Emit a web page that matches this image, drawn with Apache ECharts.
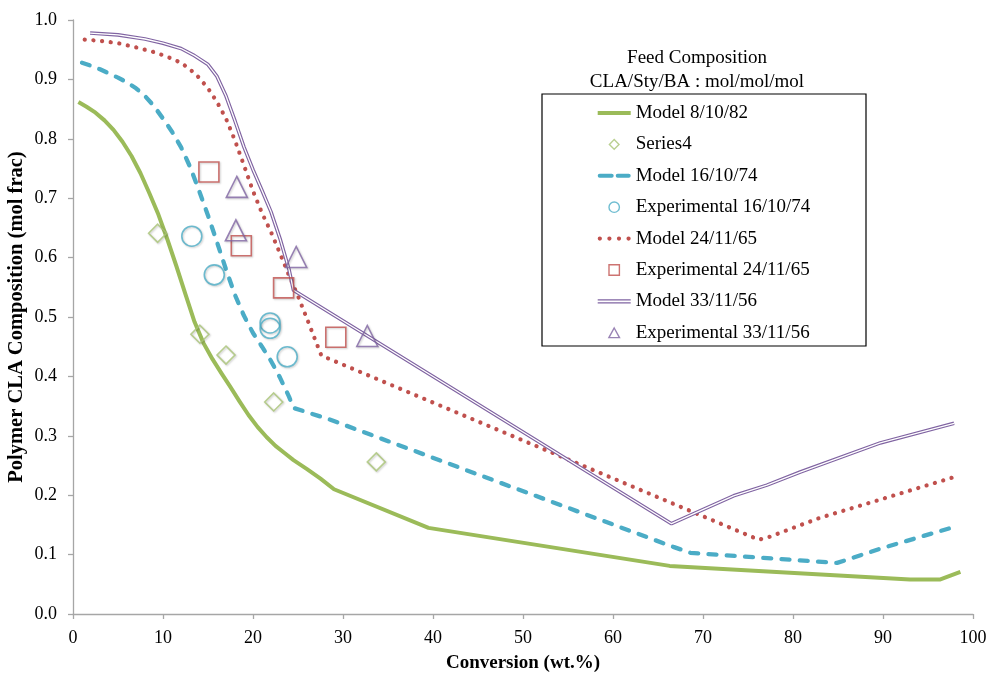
<!DOCTYPE html>
<html>
<head>
<meta charset="utf-8">
<script src="https://cdn.jsdelivr.net/npm/echarts@6/dist/echarts.min.js"></script>
<style>html,body{margin:0;padding:0;background:#fff}#c{width:990px;height:679px}</style>
</head>
<body>
<div id="c"></div>
<script>
// ---- data ----
const xTicks = [0, 10, 20, 30, 40, 50, 60, 70, 80, 90, 100];
const yTicks = [0.0, 0.1, 0.2, 0.3, 0.4, 0.5, 0.6, 0.7, 0.8, 0.9, 1.0];

const model_8_10_82 = [[0.6,0.862],[1.5,0.854],[2.5,0.844],[3.5,0.831],[4.5,0.815],[5.5,0.795],[6.5,0.771],[7.5,0.742],[8.5,0.708],[9.5,0.672],[10.5,0.630],[11.5,0.585],[12.5,0.538],[13.5,0.492],[14.5,0.456],[15.5,0.429],[16.5,0.405],[17.5,0.382],[18.5,0.358],[19.5,0.335],[20.5,0.315],[21.5,0.298],[22.5,0.283],[23.5,0.271],[24.5,0.259],[26,0.244],[27.5,0.228],[29,0.210],[39.5,0.145],[66.3,0.081],[93,0.058],[96.3,0.058],[98.6,0.071]];
const series4 = [[9.4,0.641],[14.1,0.471],[17.0,0.436],[22.3,0.357],[33.7,0.256]];

const model_16_10_74 = [[1.0,0.928],[2,0.923],[3,0.917],[4,0.910],[5,0.903],[6,0.895],[7,0.885],[8,0.872],[9,0.855],[10,0.834],[11,0.812],[12,0.786],[13,0.753],[14,0.713],[15,0.671],[16,0.626],[17,0.580],[18,0.537],[19,0.502],[20,0.473],[21,0.450],[22,0.426],[23,0.398],[24,0.366],[24.5,0.347],[28.6,0.327],[66.7,0.113],[68.6,0.103],[84.9,0.086],[89.7,0.110],[98,0.147]];
const exp_16_10_74 = [[13.2,0.636],[15.7,0.571],[21.9,0.490],[21.9,0.481],[23.8,0.433]];

const model_24_11_65 = [[1.3,0.967],[3,0.965],[5,0.961],[7,0.954],[9,0.946],[10.5,0.938],[12,0.928],[13,0.917],[14,0.903],[15,0.885],[16,0.862],[17,0.834],[18,0.797],[19,0.755],[20,0.712],[21,0.675],[22,0.643],[23,0.607],[24,0.570],[25,0.535],[26,0.497],[27,0.458],[27.6,0.435],[76.2,0.125],[77.4,0.130],[83,0.162],[88.9,0.189],[98,0.231]];
const exp_24_11_65 = [[15.1,0.744],[18.7,0.62],[23.4,0.549],[29.2,0.466]];

const model_33_11_56 = [[1.9,0.978],[5,0.975],[8,0.968],[10,0.961],[12,0.952],[13.5,0.940],[15,0.925],[16,0.905],[17,0.872],[18,0.830],[19,0.786],[20,0.748],[21,0.713],[22,0.677],[23,0.632],[24,0.580],[24.5,0.545],[66.5,0.152],[73.4,0.199],[77.1,0.217],[80.8,0.239],[89.7,0.288],[97.9,0.321]];
const exp_33_11_56 = [[18.2,0.719],[18.1,0.646],[24.8,0.601],[32.7,0.468]];

const legendNames = ['Model 8/10/82','Series4','Model 16/10/74','Experimental 16/10/74','Model 24/11/65','Experimental 24/11/65','Model 33/11/56','Experimental 33/11/56'];
const legendTitle = ['Feed Composition', 'CLA/Sty/BA : mol/mol/mol'];
const xName = 'Conversion (wt.%)';
const yName = 'Polymer CLA Composition (mol frac)';

// ---- styling ----
const GREEN = '#9BBB59', BLUE = '#4BACC6', RED = '#C0504D', PURPLE = '#8064A2';
const FONT = '"Liberation Serif", "Times New Roman", serif';

const chart = echarts.init(document.getElementById('c'), null, {renderer: 'canvas'});

const axisCommon = {
  axisLine: {lineStyle: {color: '#a6a6a6', width: 1.3}},
  axisTick: {show: true, inside: false, length: 5, lineStyle: {color: '#a6a6a6', width: 1.3}},
  splitLine: {show: false},
  nameMoveOverlap: false
};

function scatter(name, data, symbol, size, color) {
  return {
    name, type: 'scatter', data, symbol, symbolSize: size, z: 5,
    itemStyle: {color: 'rgba(255,255,255,0)', borderColor: color, borderWidth: 1.6,
      shadowColor: 'rgba(0,0,0,0.25)', shadowBlur: 2, shadowOffsetX: 1, shadowOffsetY: 1},
    emphasis: {disabled: true}
  };
}

const BOX = 'M0,0M33,12';
const dots = [0, 9, 18, 27].map(x => `M${x+2},0A2,2 0 1 1 ${x+2},4A2,2 0 1 1 ${x+2},0Z`).join(' ');
const legendIconStyle = c => ({color: 'rgba(255,255,255,0)', borderColor: c, borderWidth: 1.4, shadowBlur: 0, shadowOffsetX: 0, shadowOffsetY: 0});

const option = {
  animation: false,
  backgroundColor: '#fff',
  grid: {left: 73, right: 17, top: 20, bottom: 65, outerBoundsMode: 'none', containLabel: false},
  xAxis: Object.assign({
    type: 'value', min: xTicks[0], max: xTicks[xTicks.length-1], interval: 10,
    name: xName, nameLocation: 'middle', nameGap: 40,
    nameTextStyle: {fontFamily: FONT, fontWeight: 'bold', fontSize: 19, color: '#000'},
    axisLabel: {fontFamily: FONT, fontSize: 18, color: '#000', margin: 15}
  }, axisCommon),
  yAxis: Object.assign({
    type: 'value', min: yTicks[0], max: yTicks[yTicks.length-1], interval: 0.1,
    name: yName, nameLocation: 'middle', nameGap: 46,
    nameTextStyle: {fontFamily: FONT, fontWeight: 'bold', fontSize: 20.5, color: '#000'},
    axisLabel: {fontFamily: FONT, fontSize: 18, color: '#000', margin: 16, formatter: v => v.toFixed(1)}
  }, axisCommon),
  legend: {
    orient: 'vertical', left: 597, top: 102, padding: 0,
    itemWidth: 33, itemHeight: 12, itemGap: 9.4,
    selectedMode: false,
    textStyle: {fontFamily: FONT, fontSize: 19, color: '#000', lineHeight: 22, padding: [0,0,0,0]},
    data: [
      {name: legendNames[0], icon: 'path://M0,0H33V4H0Z'},
      {name: legendNames[1], icon: 'path://' + BOX + 'M16.5,1.2L21.3,6L16.5,10.8L11.7,6Z', itemStyle: legendIconStyle('#A9C476')},
      {name: legendNames[2], icon: 'path://M2,0H14A2,2 0 0 1 14,4H2A2,2 0 0 1 2,0Z M20,0H31A2,2 0 0 1 31,4H20A2,2 0 0 1 20,0Z'},
      {name: legendNames[3], icon: 'path://' + BOX + 'M16.5,0.8A5.2,5.2 0 1 1 16.5,11.2A5.2,5.2 0 1 1 16.5,0.8Z', itemStyle: legendIconStyle(BLUE)},
      {name: legendNames[4], icon: 'path://' + dots},
      {name: legendNames[5], icon: 'path://' + BOX + 'M11.3,0.8H21.7V11.2H11.3Z', itemStyle: legendIconStyle(RED)},
      {name: legendNames[6], icon: 'path://M0,0H33V1.2H0Z M0,3H33V4.2H0Z'},
      {name: legendNames[7], icon: 'path://' + BOX + 'M16.5,1.2L21.8,10.8H11.2Z', itemStyle: legendIconStyle(PURPLE)}
    ]
  },
  graphic: [
    {type: 'rect', shape: {x: 542, y: 94, width: 324, height: 252}, style: {fill: 'none', stroke: '#000', lineWidth: 1.2}, z: 1},
    {type: 'text', x: 697, y: 58, style: {text: legendTitle[0], font: '19px ' + FONT, fill: '#000', textAlign: 'center', textVerticalAlign: 'middle'}},
    {type: 'text', x: 697, y: 82, style: {text: legendTitle[1], font: '19px ' + FONT, fill: '#000', textAlign: 'center', textVerticalAlign: 'middle'}}
  ],
  series: [
    {name: legendNames[0], type: 'line', data: model_8_10_82, symbol: 'none', z: 2,
     itemStyle: {color: GREEN}, lineStyle: {color: GREEN, width: 4, join: 'round'}, emphasis: {disabled: true}},
    scatter(legendNames[1], series4, 'diamond', 18, '#A9C476'),
    {name: legendNames[2], type: 'line', data: model_16_10_74, symbol: 'none', z: 2,
     itemStyle: {color: BLUE}, lineStyle: {color: BLUE, width: 4.3, type: [8, 10.3], cap: 'round'}, emphasis: {disabled: true}},
    scatter(legendNames[3], exp_16_10_74, 'circle', 20, BLUE),
    {name: legendNames[4], type: 'line', data: model_24_11_65, symbol: 'none', z: 2,
     itemStyle: {color: RED}, lineStyle: {color: RED, width: 4.2, type: [0.1, 8.6], cap: 'round'}, emphasis: {disabled: true}},
    scatter(legendNames[5], exp_24_11_65, 'rect', 20, RED),
    {name: legendNames[6], type: 'line', data: model_33_11_56, symbol: 'none', z: 3,
     itemStyle: {color: PURPLE}, lineStyle: {color: PURPLE, width: 3.6}, emphasis: {disabled: true}},
    {name: 'purple-core', type: 'line', data: model_33_11_56, symbol: 'none', z: 3,
     itemStyle: {color: '#fff'}, lineStyle: {color: '#fff', width: 1.3}, emphasis: {disabled: true}},
    scatter(legendNames[7], exp_33_11_56, 'triangle', 21, PURPLE)
  ]
};
chart.setOption(option);
</script>
</body>
</html>
